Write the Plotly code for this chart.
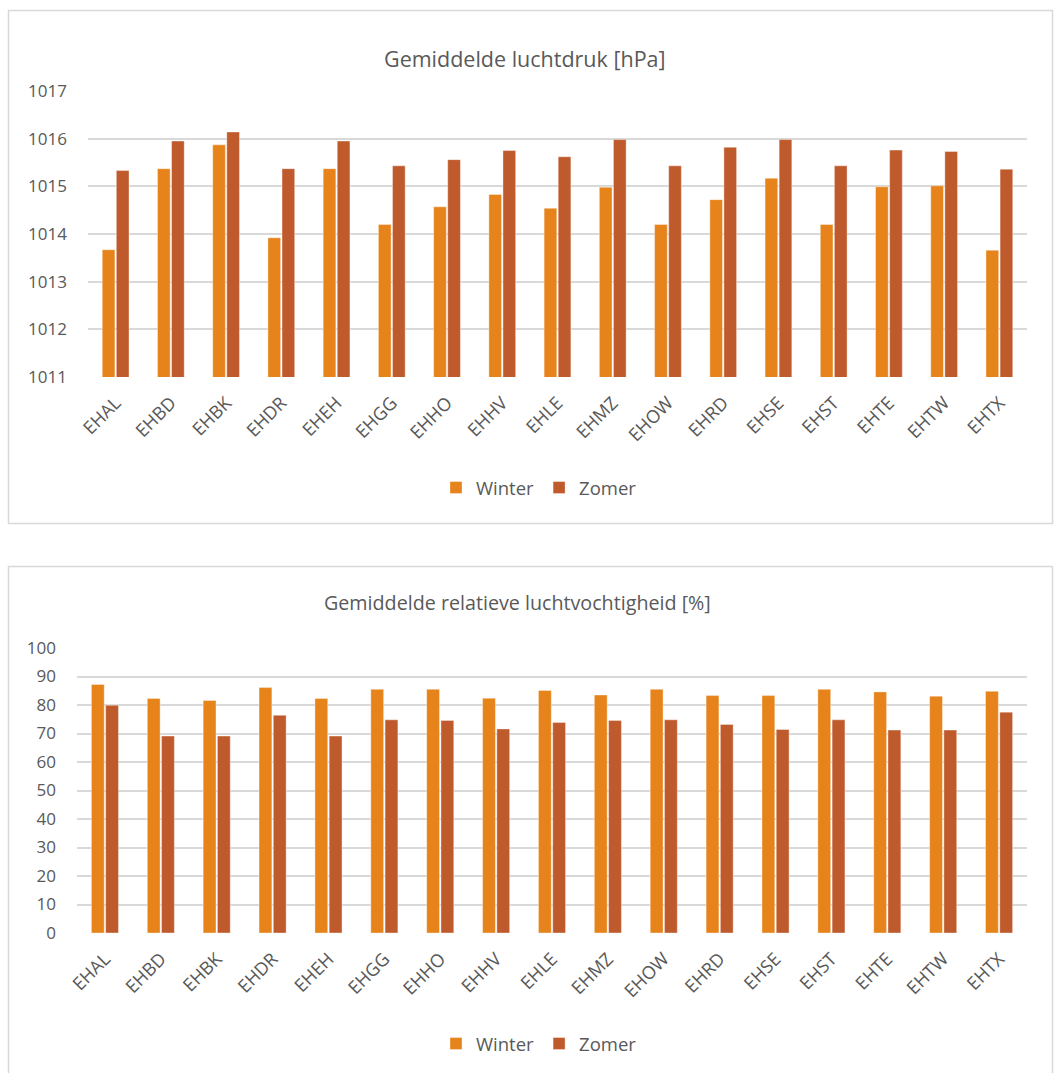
import plotly.graph_objects as go

stations = ["EHAL", "EHBD", "EHBK", "EHDR", "EHEH", "EHGG", "EHHO", "EHHV", "EHLE",
            "EHMZ", "EHOW", "EHRD", "EHSE", "EHST", "EHTE", "EHTW", "EHTX"]

druk_winter = [1013.67, 1015.37, 1015.87, 1013.92, 1015.37, 1014.20, 1014.57, 1014.83, 1014.54,
               1014.98, 1014.20, 1014.72, 1015.17, 1014.20, 1014.99, 1015.01, 1013.66]
druk_zomer = [1015.33, 1015.95, 1016.14, 1015.37, 1015.95, 1015.43, 1015.56, 1015.75, 1015.62,
              1015.98, 1015.43, 1015.82, 1015.98, 1015.43, 1015.76, 1015.73, 1015.36]

vocht_winter = [87.2, 82.3, 81.6, 86.1, 82.3, 85.5, 85.5, 82.4, 85.1,
                83.5, 85.5, 83.3, 83.3, 85.5, 84.6, 83.1, 84.8]
vocht_zomer = [79.9, 69.1, 69.1, 76.4, 69.1, 74.8, 74.6, 71.6, 73.9,
               74.6, 74.8, 73.2, 71.4, 74.8, 71.2, 71.2, 77.5]

druk_ticks = [1011, 1012, 1013, 1014, 1015, 1016, 1017]
vocht_ticks = [0, 10, 20, 30, 40, 50, 60, 70, 80, 90, 100]

titles = ["Gemiddelde luchtdruk [hPa]", "Gemiddelde relatieve luchtvochtigheid [%]"]

C_WINTER = "#E6831A"
C_ZOMER = "#BF5A2C"
TXT = "#595959"
GRID = "#D9D9D9"
FONT = "Open Sans"

W, H = 1054, 1073

fig = go.Figure()

def bar(x, y, name, color, xa, ya, lg):
    return go.Bar(x=x, y=y, name=name, marker_color=color,
                  marker_line=dict(color="rgba(255,255,255,0.5)", width=0.75),
                  xaxis=xa, yaxis=ya, legend=lg)

fig.add_trace(bar(stations, druk_winter, "Winter", C_WINTER, "x", "y", "legend"))
fig.add_trace(bar(stations, druk_zomer, "Zomer", C_ZOMER, "x", "y", "legend"))
fig.add_trace(bar(stations, vocht_winter, "Winter", C_WINTER, "x2", "y2", "legend2"))
fig.add_trace(bar(stations, vocht_zomer, "Zomer", C_ZOMER, "x2", "y2", "legend2"))

def px(v):
    return v / W

def py(v):
    return 1 - v / H

ytickfont = dict(family=FONT, size=17, color=TXT)
xtickfont = dict(family=FONT, size=18, color=TXT)

xcommon = dict(type="category", tickangle=-45, tickfont=xtickfont, showgrid=False,
               showline=False, ticks="", zeroline=False, automargin=False,
               ticklabelstandoff=11)
ycommon = dict(tickfont=ytickfont, showgrid=True, gridcolor=GRID, gridwidth=1.5,
               zeroline=False, showline=False, ticks="", ticklabelstandoff=20,
               automargin=False)

fig.update_layout(
    width=W, height=H,
    margin=dict(l=0, r=0, t=0, b=0, autoexpand=False),
    paper_bgcolor="white", plot_bgcolor="white",
    barmode="group", bargap=0.49, bargroupgap=0.1,
    font=dict(family=FONT, color=TXT),
    xaxis=dict(domain=[px(88), px(1027)], anchor="y", **xcommon),
    yaxis=dict(domain=[py(377), py(91)], anchor="x", range=[1011, 1017],
               tickvals=druk_ticks, **ycommon),
    xaxis2=dict(domain=[px(77), px(1027)], anchor="y2", **xcommon),
    yaxis2=dict(domain=[py(933), py(648)], anchor="x2", range=[0, 100],
                tickvals=vocht_ticks, **ycommon),
    legend=dict(orientation="h", x=px(539), y=py(488), xanchor="center", yanchor="middle",
                font=dict(family=FONT, size=18.5, color=TXT), bgcolor="rgba(0,0,0,0)"),
    legend2=dict(orientation="h", x=px(539), y=py(1044), xanchor="center", yanchor="middle",
                 font=dict(family=FONT, size=18.5, color=TXT), bgcolor="rgba(0,0,0,0)"),
    annotations=[
        dict(text=titles[0], x=px(525), y=py(58), xref="paper", yref="paper",
             xanchor="center", yanchor="middle", showarrow=False,
             font=dict(family=FONT, size=21.5, color=TXT)),
        dict(text=titles[1], x=px(517), y=py(602), xref="paper", yref="paper",
             xanchor="center", yanchor="middle", showarrow=False,
             font=dict(family=FONT, size=19.7, color=TXT)),
    ],
    shapes=[
        dict(type="rect", xref="paper", yref="paper", x0=px(8.5), x1=px(1052.5),
             y0=py(523.5), y1=py(10.5), line=dict(color=GRID, width=1.5)),
        dict(type="rect", xref="paper", yref="paper", x0=px(8.5), x1=px(1052.5),
             y0=py(1080), y1=py(566.5), line=dict(color=GRID, width=1.5)),
    ],
)

fig.write_html("out.html")
